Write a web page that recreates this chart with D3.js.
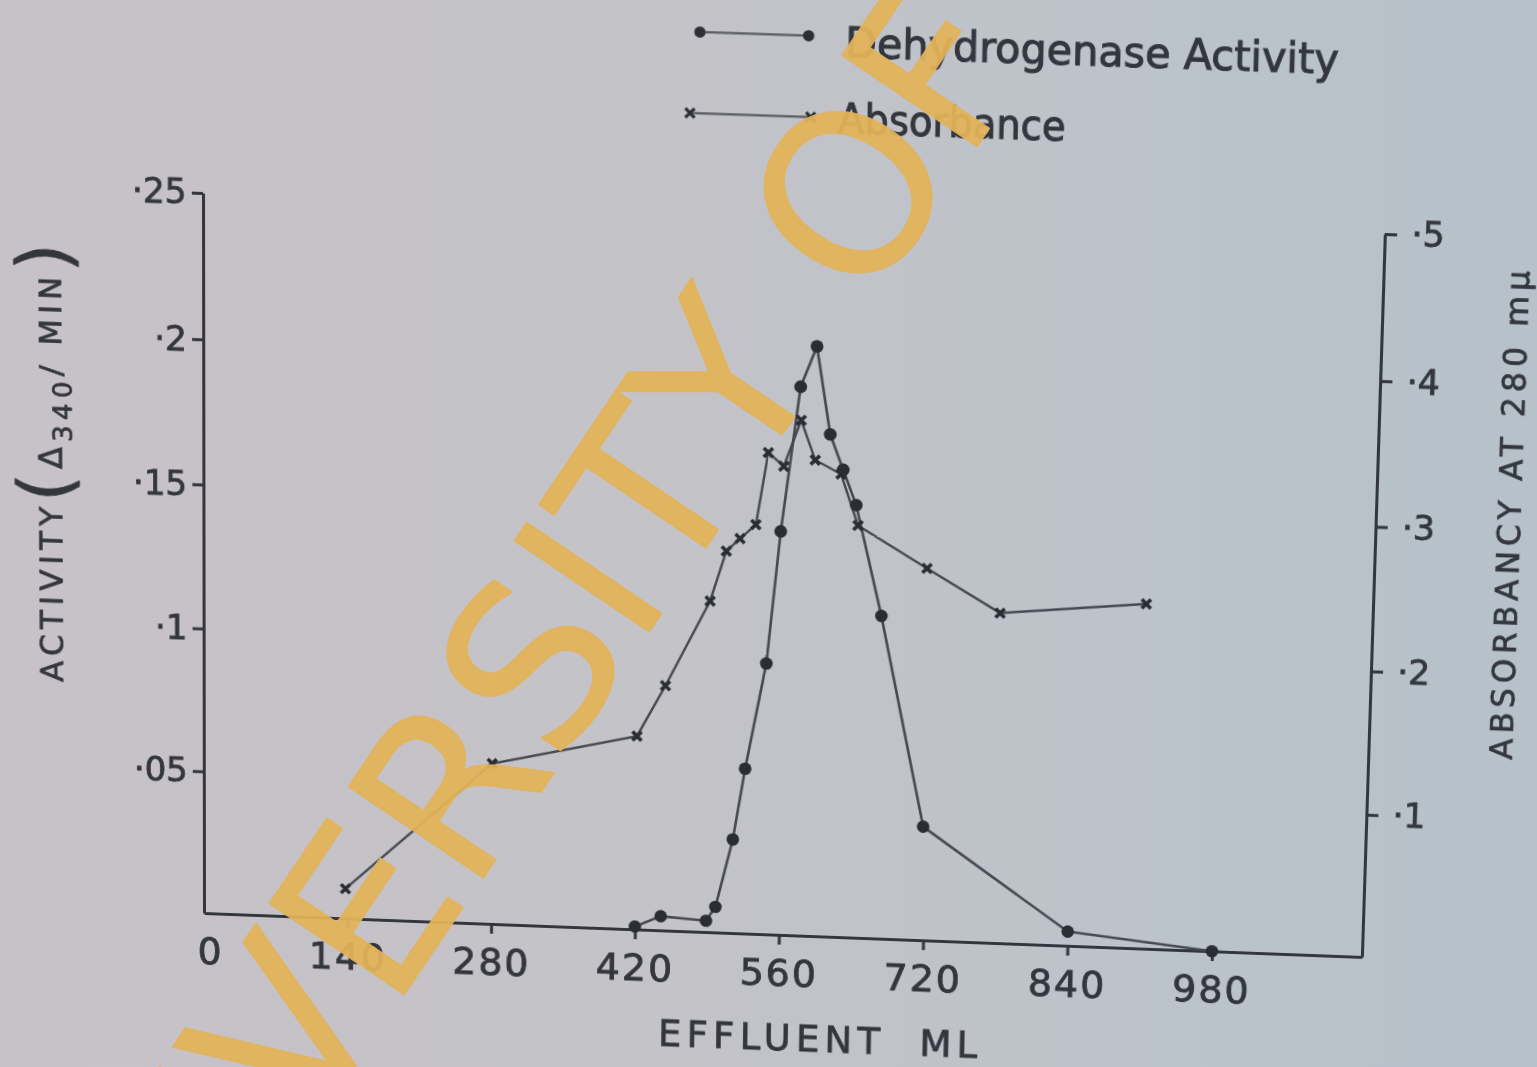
<!DOCTYPE html>
<html><head><meta charset="utf-8">
<script src="https://cdn.jsdelivr.net/npm/d3@7"></script>
<style>
html,body{margin:0;padding:0;width:1537px;height:1067px;overflow:hidden;}
body{background:linear-gradient(90deg,#c7c2c7 0%,#c3c3c8 45%,#bcc3ca 75%,#b6c1c9 100%);}
#chart,#wm{position:absolute;left:0;top:0;overflow:visible;}
#chart{transform-origin:0 0;z-index:1;}
#wm{z-index:2;pointer-events:none;}
</style></head><body>
<svg id="chart" width="1537" height="1067"></svg>
<svg id="wm" width="1537" height="1067"></svg>
<script>
// ---------------- data ----------------
const effluentDehydrogenase = [420,445,489,498,514,525,544,556,573,588,602,615,628,654,698,840,980];
const dehydrogenaseActivity = [0.001,0.005,0.004,0.009,0.033,0.058,0.095,0.141,0.191,0.205,0.175,0.163,0.151,0.113,0.040,0.005,0];
const effluentAbsorbance = [138,280,420,447,489,504,517,532,543,558,574,588,613,630,697,768,908];
const absorbance280 = [0.021,0.113,0.136,0.172,0.232,0.267,0.276,0.286,0.336,0.327,0.359,0.332,0.323,0.288,0.260,0.231,0.241];
const xTickValues = [0,140,280,420,560,700,840,980];
const xTickLabels = ["0","140","280","420","560","720","840","980"];
const activityTicks = [0.05,0.1,0.15,0.2,0.25];
const activityTickLabels = ["·05","·1","·15","·2","·25"];
const absorbanceTicks = [0.1,0.2,0.3,0.4,0.5];
const absorbanceTickLabels = ["·1","·2","·3","·4","·5"];
const seriesNames = ["Dehydrogenase Activity","Absorbance"];
const xAxisTitle = "EFFLUENT  ML";
const rightAxisTitle = "ABSORBANCY AT 280 mμ";
const watermarkText = "UNIVERSITY OF IBADAN LIBRARY";

// ---------------- photo perspective (homography) ----------------
const L=204,B=914,R=1362,T=193;
const src=[[L,B],[R,B],[L,T],[R,T]];
const dst=[[204,913],[1362,957],[203,193],[1385,234]];
function solveLinear(A,b){
  const n=b.length; const M=A.map((r,i)=>[...r,b[i]]);
  for(let c=0;c<n;c++){
    let p=c; for(let r=c+1;r<n;r++) if(Math.abs(M[r][c])>Math.abs(M[p][c])) p=r;
    [M[c],M[p]]=[M[p],M[c]];
    for(let r=0;r<n;r++){ if(r===c) continue; const f=M[r][c]/M[c][c]; for(let k=c;k<=n;k++) M[r][k]-=f*M[c][k]; }
  }
  return M.map((r,i)=>r[n]/r[i]);
}
const Arows=[],bvec=[];
for(let i=0;i<4;i++){
  const [x,y]=src[i],[X,Y]=dst[i];
  Arows.push([x,y,1,0,0,0,-X*x,-X*y]); bvec.push(X);
  Arows.push([0,0,0,x,y,1,-Y*x,-Y*y]); bvec.push(Y);
}
const hv=solveLinear(Arows,bvec);
const Hm=[[hv[0],hv[1],hv[2]],[hv[3],hv[4],hv[5]],[hv[6],hv[7],1]];
function inv3(m){
  const [a,b,c]=m[0],[d,e,f]=m[1],[g,h,i]=m[2];
  const A=e*i-f*h,Bq=-(d*i-f*g),C=d*h-e*g,D=-(b*i-c*h),E=a*i-c*g,F=-(a*h-b*g),G=b*f-c*e,H=-(a*f-c*d),I=a*e-b*d;
  const det=a*A+b*Bq+c*C;
  return [[A/det,D/det,G/det],[Bq/det,E/det,H/det],[C/det,F/det,I/det]];
}
const Hinv=inv3(Hm);
function applyH(m,x,y){const w=m[2][0]*x+m[2][1]*y+m[2][2];return [(m[0][0]*x+m[0][1]*y+m[0][2])/w,(m[1][0]*x+m[1][1]*y+m[1][2])/w];}
const toFlat=(sx,sy)=>applyH(Hinv,sx,sy);
document.getElementById('chart').style.transform=
  `matrix3d(${Hm[0][0]},${Hm[1][0]},0,${Hm[2][0]},${Hm[0][1]},${Hm[1][1]},0,${Hm[2][1]},0,0,1,0,${Hm[0][2]},${Hm[1][2]},0,1)`;

// ---------------- chart ----------------
const INK="#33363d", LINE="#464950", FONT="'DejaVu Sans', sans-serif";
const svg=d3.select('#chart');
const x=d3.scaleLinear([0,1125],[L,R]);
const yA=d3.scaleLinear([0,0.25],[B,T]);
const yB=d3.scaleLinear([0,0.5],[B,T]);

function styleAxis(g,fs){
  g.select('.domain').attr('stroke',INK).attr('stroke-width',3);
  g.selectAll('.tick line').attr('stroke',INK).attr('stroke-width',3);
  g.selectAll('.tick text').attr('fill',INK).attr('stroke',INK).attr('stroke-width',0.8)
    .style('font-family',FONT).style('font-size',fs+'px');
}
const gx=svg.append('g').attr('transform',`translate(0,${B})`)
  .call(d3.axisBottom(x).tickValues(xTickValues).tickFormat((d,i)=>xTickLabels[i]).tickSize(10).tickSizeOuter(0).tickPadding(15));
styleAxis(gx,38);
gx.selectAll('.tick text').attr('letter-spacing',2);
gx.selectAll('.tick').filter(d=>d===0).select('line').remove();
gx.selectAll('.tick').filter(d=>d===0).select('text').attr('x',6);

const gl=svg.append('g').attr('transform',`translate(${L},0)`)
  .call(d3.axisLeft(yA).tickValues(activityTicks).tickFormat((d,i)=>activityTickLabels[i]).tickSize(11).tickSizeOuter(0).tickPadding(5));
styleAxis(gl,34);

const gr=svg.append('g').attr('transform',`translate(${R},0)`)
  .call(d3.axisRight(yB).tickValues(absorbanceTicks).tickFormat((d,i)=>absorbanceTickLabels[i]).tickSize(12).tickSizeOuter(0).tickPadding(14));
styleAxis(gr,34);

// series
const dehydro=effluentDehydrogenase.map((v,i)=>[v,dehydrogenaseActivity[i]]);
const absor=effluentAbsorbance.map((v,i)=>[v,absorbance280[i]]);
svg.append('path').datum(absor).attr('fill','none').attr('stroke',LINE).attr('stroke-width',2.4)
  .attr('d',d3.line().x(d=>x(d[0])).y(d=>yB(d[1])));
svg.append('path').datum(dehydro).attr('fill','none').attr('stroke',LINE).attr('stroke-width',2.6)
  .attr('d',d3.line().x(d=>x(d[0])).y(d=>yA(d[1])));
const XMARK="M-4.5,-4.5L4.5,4.5M4.5,-4.5L-4.5,4.5";
svg.append('g').selectAll('path').data(absor).join('path')
  .attr('d',XMARK).attr('transform',d=>`translate(${x(d[0])},${yB(d[1])})`)
  .attr('stroke','#2a2d34').attr('stroke-width',3.6).attr('fill','none');
svg.append('g').selectAll('circle').data(dehydro).join('circle')
  .attr('cx',d=>x(d[0])).attr('cy',d=>yA(d[1])).attr('r',6.3).attr('fill','#2a2d34');

// legend
const lg=svg.append('g');
const p1=toFlat(700,32);
lg.append('line').attr('x1',p1[0]).attr('y1',p1[1]).attr('x2',p1[0]+106).attr('y2',p1[1]).attr('stroke','#5a5d64').attr('stroke-width',2.2);
[0,106].forEach(o=>lg.append('circle').attr('cx',p1[0]+o).attr('cy',p1[1]).attr('r',5.5).attr('fill','#2c2f36'));
const t1=toFlat(845,57);
lg.append('text').attr('x',t1[0]).attr('y',t1[1]).text(seriesNames[0])
  .attr('fill',INK).attr('stroke',INK).attr('stroke-width',1).style('font-family',FONT).style('font-size','40px')
  .attr('textLength',480).attr('lengthAdjust','spacingAndGlyphs');
const p2=toFlat(690,113);
lg.append('line').attr('x1',p2[0]).attr('y1',p2[1]).attr('x2',p2[0]+118).attr('y2',p2[1]).attr('stroke','#5a5d64').attr('stroke-width',2.2);
[0,118].forEach(o=>lg.append('path').attr('d',XMARK).attr('transform',`translate(${p2[0]+o},${p2[1]})`).attr('stroke','#2c2f36').attr('stroke-width',3));
const t2=toFlat(838,133);
lg.append('text').attr('x',t2[0]).attr('y',t2[1]).text(seriesNames[1])
  .attr('fill',INK).attr('stroke',INK).attr('stroke-width',1).style('font-family',FONT).style('font-size','40px')
  .attr('textLength',222).attr('lengthAdjust','spacingAndGlyphs');

// axis titles
const xt=toFlat(658,1046);
svg.append('text').attr('x',xt[0]).attr('y',xt[1]).text(xAxisTitle)
  .attr('fill',INK).attr('stroke',INK).attr('stroke-width',0.8).style('font-family',FONT).style('font-size','37px').style('white-space','pre')
  .attr('textLength',320).attr('lengthAdjust','spacing');

const lt=toFlat(63,682);
const ltx=svg.append('text').attr('transform',`translate(${lt[0]},${lt[1]}) rotate(-90)`)
  .attr('fill',INK).attr('stroke',INK).attr('stroke-width',0.7).style('font-family',FONT).style('white-space','pre')
  .attr('textLength',437).attr('lengthAdjust','spacing');
ltx.append('tspan').style('font-size','31px').text('ACTIVITY');
ltx.append('tspan').style('font-size','72px').attr('dy',8).text('(');
ltx.append('tspan').style('font-size','32px').attr('dy',-8).text('Δ');
ltx.append('tspan').style('font-size','26px').attr('dy',10).text('340');
ltx.append('tspan').style('font-size','30px').attr('dy',-10).text('/ MIN');
ltx.append('tspan').style('font-size','72px').attr('dy',8).text(')');

const rt=toFlat(1512,760);
svg.append('text').attr('transform',`translate(${rt[0]},${rt[1]}) rotate(-90)`)
  .text(rightAxisTitle).attr('fill',INK).attr('stroke',INK).attr('stroke-width',0.7).style('font-family',FONT).style('font-size','31px')
  .attr('textLength',485).attr('lengthAdjust','spacing');

// ---------------- watermark ----------------
const wsvg=d3.select('#wm');
let fs=224;
const wt=wsvg.append('text').text(watermarkText).attr('x',0).attr('y',0)
  .style('font-family',FONT).style('font-size',fs+'px')
  .attr('fill','#e3b35a').attr('stroke','#e3b35a').attr('stroke-width',1.5).attr('stroke-linejoin','round')
  .attr('opacity',0.94);
const node=wt.node();
const ctr=k=>(node.getStartPositionOfChar(k).x+node.getEndPositionOfChar(k).x)/2;
const tgtI=[588,577], tgtO=[848,192];
const dTarget=Math.hypot(tgtO[0]-tgtI[0],tgtO[1]-tgtI[1]);
fs=fs*dTarget/(ctr(11)-ctr(7));
wt.style('font-size',fs+'px');
const cI=ctr(7), cO=ctr(11), cy=-0.365*fs;
const ang=Math.atan2(tgtO[1]-tgtI[1],tgtO[0]-tgtI[0]);
const lm=[(cI+cO)/2,cy], sm=[(tgtI[0]+tgtO[0])/2,(tgtI[1]+tgtO[1])/2];
const rx=Math.cos(ang)*lm[0]-Math.sin(ang)*lm[1], ry=Math.sin(ang)*lm[0]+Math.cos(ang)*lm[1];
wt.attr('transform',`translate(${sm[0]-rx},${sm[1]-ry}) rotate(${ang*180/Math.PI})`);
</script>
</body></html>
